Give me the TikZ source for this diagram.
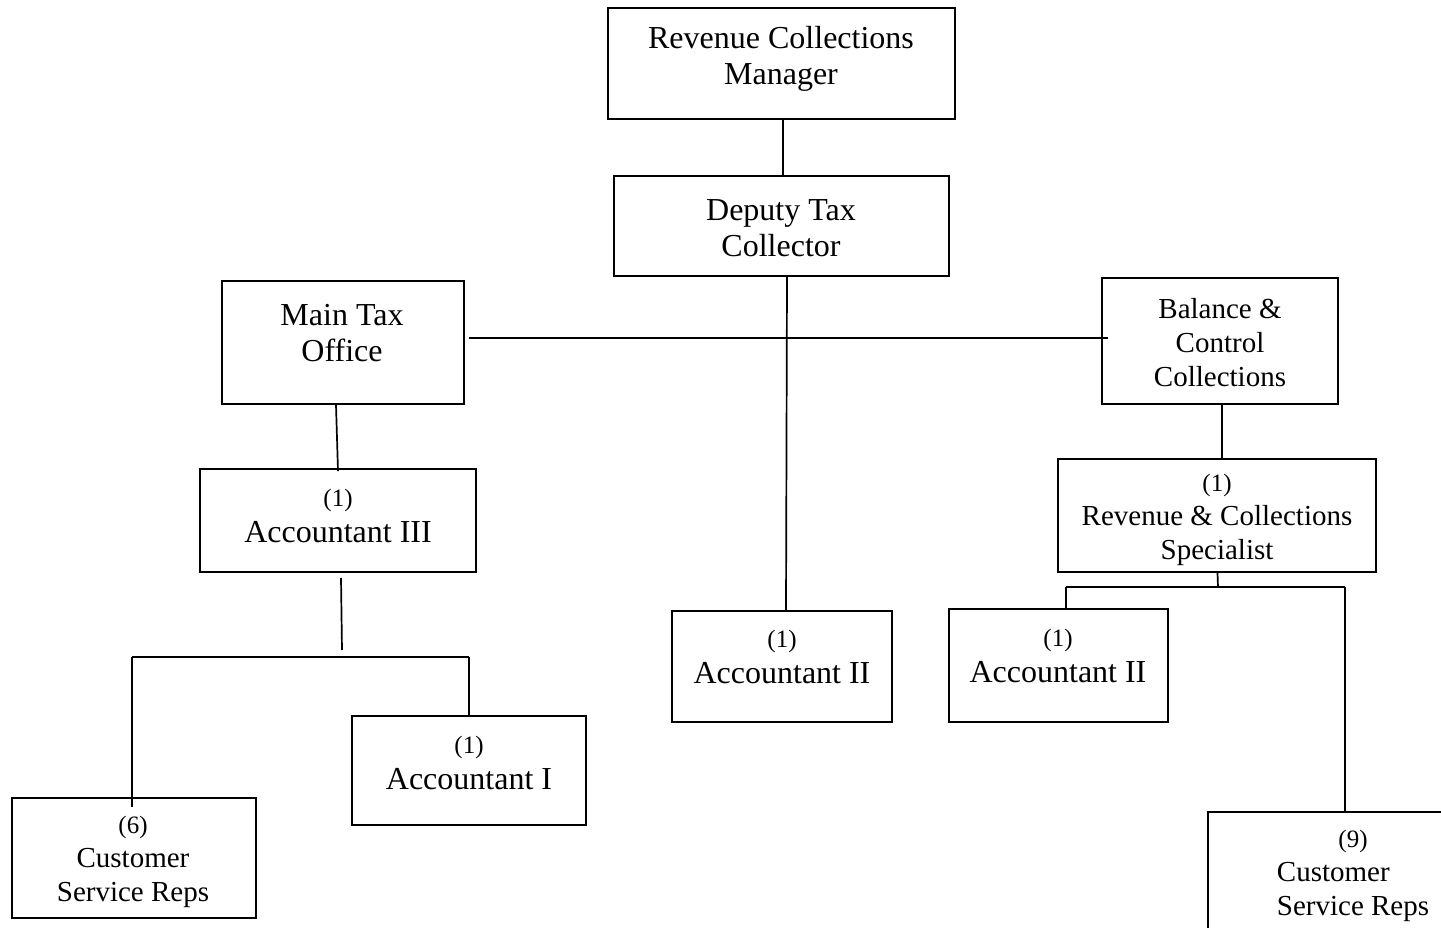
\documentclass[tikz,border=0pt]{standalone}
\usepackage{fontspec}
\setmainfont{Liberation Serif}
\newcommand\staffno[1]{{\fontsize{25}{30}\selectfont #1}}
\begin{document}
\begin{tikzpicture}[x=1pt,y=-1pt,
  box/.style={draw,line width=1.7pt,inner sep=0pt,rectangle},
  lnk/.style={line width=1.7pt},
  big/.style={font=\fontsize{32}{36}\selectfont,align=center,inner sep=0pt},
  mid/.style={font=\fontsize{29}{34}\selectfont,align=center,inner sep=0pt},
]
\useasboundingbox[fill=white] (0,0) rectangle (1441,928);

% boxes
\node[box,minimum width=347,minimum height=111] (rcm)  at (781.5,63.5) {};
\node[box,minimum width=335,minimum height=100] (dtc)  at (781.5,226) {};
\node[box,minimum width=242,minimum height=123] (mto)  at (343,342.5) {};
\node[box,minimum width=236,minimum height=126] (bcc)  at (1220,341) {};
\node[box,minimum width=276,minimum height=103] (ac3)  at (338,520.5) {};
\node[box,minimum width=234,minimum height=109] (ac1)  at (469,770.5) {};
\node[box,minimum width=244,minimum height=120] (csl)  at (134,858) {};
\node[box,minimum width=220,minimum height=111] (ac2c) at (782,666.5) {};
\node[box,minimum width=318,minimum height=113] (rcs)  at (1217,515.5) {};
\node[box,minimum width=219,minimum height=113] (ac2r) at (1058.5,665.5) {};
\node[box,minimum width=252,minimum height=138] (csr)  at (1334,881) {};

% texts
\node[big] (trcm)  at (781,59)   {Revenue Collections\\Manager};
\node[big] (tdtc)  at (781,228)  {Deputy Tax\\Collector};
\node[big] (tmto)  at (342,333)  {Main Tax\\Office};
\node[mid] (tbcc)  at (1220,343) {Balance \&\\Control\\Collections};
\node[big] (tac3)  at (338,516)  {\staffno{(1)}\\Accountant III};
\node[big] (tac1)  at (469,763)  {\staffno{(1)}\\Accountant I};
\node[big] (tac2c) at (782,657)  {\staffno{(1)}\\Accountant II};
\node[big] (tac2r) at (1058,656) {\staffno{(1)}\\Accountant II};
\node[mid] (trcs)  at (1217,520) {\staffno{(1)}\\Revenue \& Collections\\Specialist};
\node[mid] (tcsl)  at (133,862)  {\staffno{(6)}\\Customer\\Service Reps};
\node[mid] (tcsr)  at (1353,876) {\staffno{(9)}\\\rlap{Customer}\phantom{Service Reps}\\Service Reps};

% junction points
\coordinate (hl) at (469,338);
\coordinate (hr) at (1108,338);
\coordinate (a3t) at (341,578);
\coordinate (a3b) at (342,650);
\coordinate (bl) at (132,657);
\coordinate (br) at (469,657);
\coordinate (rb) at (1218,587);
\coordinate (rl) at (1066,587);
\coordinate (rr) at (1345,587);

% connectors
\draw[lnk] (rcm.south -| 783,0) -- (dtc.north -| 783,0);
\draw[lnk] ([xshift=5.5]dtc.south) -- ([xshift=4]ac2c.north);
\draw[lnk] (hl) -- (hr);
\draw[lnk] ([xshift=-7]mto.south) -- ([yshift=-3]ac3.north);
\draw[lnk] (a3t) -- (a3b);
\draw[lnk] (bl) -- (br);
\draw[lnk] (bl) -- ([yshift=-10]csl.north -| bl);
\draw[lnk] (br) -- (ac1.north);
\draw[lnk] (bcc.south -| 1222,0) -- (rcs.north -| 1222,0);
\draw[lnk] ([xshift=0.5]rcs.south) -- (rb);
\draw[lnk] (rl) -- (rr);
\draw[lnk] (rl) -- (ac2r.north -| rl);
\draw[lnk] (rr) -- (csr.north -| rr);
\end{tikzpicture}
\end{document}
